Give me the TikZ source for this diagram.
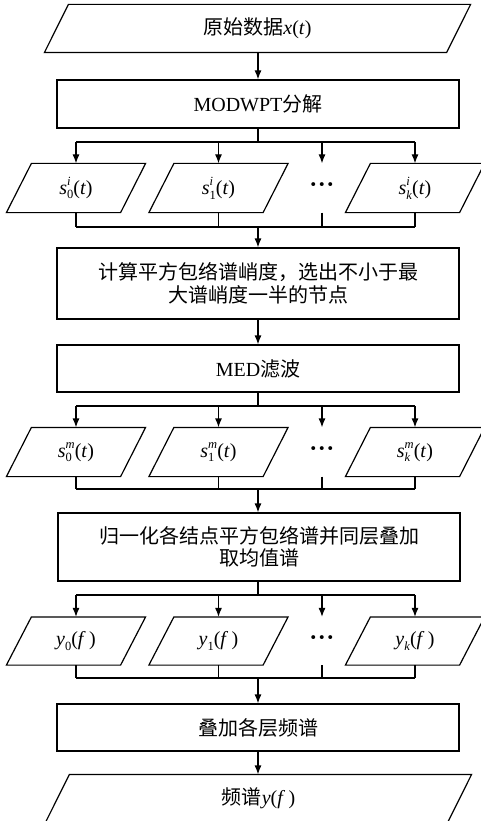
\documentclass[tikz,border=0pt]{standalone}
\usepackage{fontspec}
\setmainfont{Liberation Serif}
\newfontfamily\cjk{Noto Sans CJK SC}
\usetikzlibrary{arrows.meta}
\newcommand\scr{\fontsize{12.5}{12.5}\selectfont}
\newcommand\sv[3]{\textit{#1}\ooalign{\raisebox{1.0ex}{\scr\textit{#3}}\cr\raisebox{-0.5ex}{\scr #2}\cr}}
\newcommand\yv[1]{\textit{y}\raisebox{-0.5ex}{\scr #1}}
\newcommand\dotsmark{{\fontsize{24}{24}\selectfont\textbf{·\kern0.5pt·\kern0.5pt·}}}
\newcommand\pgram[2]{\draw ([xshift=#2/2]#1.north west) -- ([xshift=#2/2]#1.north east) -- ([xshift=-#2/2]#1.south east) -- ([xshift=-#2/2]#1.south west) -- cycle;}
\begin{document}
\begin{tikzpicture}[x=1pt,y=-1pt,line width=1.2pt,
  font=\fontsize{20}{22.5}\selectfont,
  box/.style={draw,minimum width=402,minimum height=#1,inner sep=0,align=center},
  pg/.style={minimum width=113,minimum height=48,inner sep=0},
  arr/.style={-{Latex[length=9,width=7]}}]
\useasboundingbox (0,0) rectangle (481,821);

% top input
\node[pg,minimum width=401,minimum height=47] (in) at (257.5,28.5) {{\cjk 原始数据}\textit{x}(\textit{t})};
\pgram{in}{24}
\node[box=48] (b1) at (258,104) {MODWPT{\cjk 分解}};
\draw[arr] (in.south -| b1.north) -- (b1.north);

% row 1
\coordinate (h1) at (258,142);
\coordinate (h2) at (258,227);
\node[pg] (p10) at (76,188) {\sv{s}{0}{i}(\textit{t})};
\node[pg] (p11) at (218.5,188) {\sv{s}{1}{i}(\textit{t})};
\node (d1) at (322,188) {\dotsmark};
\node[pg] (p1k) at (415,188) {\sv{s}{\textit{k}}{i}(\textit{t})};
\foreach \n in {p10,p11,p1k} {\pgram{\n}{25}}
\draw (b1.south) -- (h1);
\draw (p10.center |- h1) -- (p1k.center |- h1);
\foreach \n in {p10,p11,d1,p1k} \draw[arr] (\n.center |- h1) -- (\n.center |- p10.north);
\foreach \n in {p10,p11,p1k} \draw (\n.south) -- (\n.center |- h2);
\draw (d1.center |- p10.south) -- (d1.center |- h2);
\draw (p10.center |- h2) -- (p1k.center |- h2);

\node[box=71] (b3) at (258,283.5) {{\cjk 计算平方包络谱峭度，选出不小于最}\\{\cjk 大谱峭度一半的节点}};
\draw[arr] (h2) -- (b3.north);
\node[box=47] (b4) at (258,368.5) {MED{\cjk 滤波}};
\draw[arr] (b3.south) -- (b4.north);

% row 2
\coordinate (h3) at (258,406);
\coordinate (h4) at (258,489);
\node[pg] (p20) at (76,452) {\sv{s}{0}{m}(\textit{t})};
\node[pg] (p21) at (218.5,452) {\sv{s}{1}{m}(\textit{t})};
\node (d2) at (322,452) {\dotsmark};
\node[pg] (p2k) at (415,452) {\sv{s}{\textit{k}}{m}(\textit{t})};
\foreach \n in {p20,p21,p2k} {\pgram{\n}{25}}
\draw (b4.south) -- (h3);
\draw (p20.center |- h3) -- (p2k.center |- h3);
\foreach \n in {p20,p21,d2,p2k} \draw[arr] (\n.center |- h3) -- (\n.center |- p20.north);
\foreach \n in {p20,p21,p2k} \draw (\n.south) -- (\n.center |- h4);
\draw (d2.center |- p20.south) -- (d2.center |- h4);
\draw (p20.center |- h4) -- (p2k.center |- h4);

\node[box=68] (b5) at (259,547) {{\cjk 归一化各结点平方包络谱并同层叠加}\\{\cjk 取均值谱}};
\draw[arr] (h4) -- (b5.north -| h4);

% row 3
\coordinate (h5) at (258,595);
\coordinate (h6) at (258,678);
\node[pg,minimum height=47] (p30) at (76,641) {\yv{0}(\textit{f}\,)};
\node[pg,minimum height=47] (p31) at (218.5,641) {\yv{1}(\textit{f}\,)};
\node (d3) at (322,641) {\dotsmark};
\node[pg,minimum height=47] (p3k) at (415,641) {\yv{\textit{k}}(\textit{f}\,)};
\foreach \n in {p30,p31,p3k} {\pgram{\n}{25}}
\draw (b5.south -| h5) -- (h5);
\draw (p30.center |- h5) -- (p3k.center |- h5);
\foreach \n in {p30,p31,d3,p3k} \draw[arr] (\n.center |- h5) -- (\n.center |- p30.north);
\foreach \n in {p30,p31,p3k} \draw (\n.south) -- (\n.center |- h6);
\draw (d3.center |- p30.south) -- (d3.center |- h6);
\draw (p30.center |- h6) -- (p3k.center |- h6);

\node[box=47] (b6) at (258,727.5) {{\cjk 叠加各层频谱}};
\draw[arr] (h6) -- (b6.north);
\node[pg,minimum width=401,minimum height=47] (out) at (258.5,798.5) {{\cjk 频谱}\textit{y}(\textit{f}\,)};
\pgram{out}{24}
\draw[arr] (b6.south) -- (out.north -| b6.south);
\end{tikzpicture}
\end{document}
